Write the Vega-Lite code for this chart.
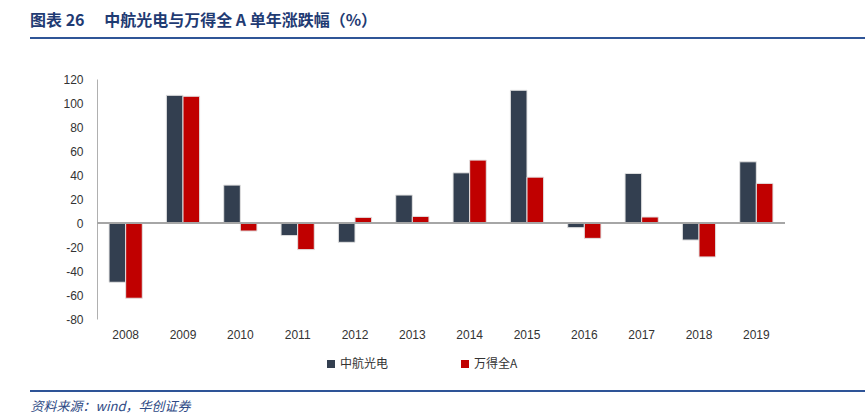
{
  "$schema": "https://vega.github.io/schema/vega-lite/v6.json",
  "width": 688,
  "height": 240,
  "autosize": {"type": "none"},
  "padding": {"left": 97, "top": 79, "right": 80, "bottom": 101},
  "background": "white",
  "config": {"view": {"stroke": null}, "font": "Liberation Sans", "axisY": {"labelOverlap": false}},
  "title": {
    "text": "图表 26\u3000 中航光电与万得全\u00a0A\u00a0单年涨跌幅（%）",
    "anchor": "start",
    "frame": "group",
    "dx": -67,
    "offset": 8,
    "font": "Noto Sans CJK SC",
    "fontSize": 16,
    "fontWeight": "bold",
    "color": "#1F3B73"
  },
  "data": {
    "values": [
      {"year": "2008", "series": "中航光电", "value": -49.4},
      {"year": "2008", "series": "万得全A", "value": -62.7},
      {"year": "2009", "series": "中航光电", "value": 106.4},
      {"year": "2009", "series": "万得全A", "value": 105.6},
      {"year": "2010", "series": "中航光电", "value": 31.6},
      {"year": "2010", "series": "万得全A", "value": -6.7},
      {"year": "2011", "series": "中航光电", "value": -10.5},
      {"year": "2011", "series": "万得全A", "value": -22.2},
      {"year": "2012", "series": "中航光电", "value": -16.1},
      {"year": "2012", "series": "万得全A", "value": 4.7},
      {"year": "2013", "series": "中航光电", "value": 23.3},
      {"year": "2013", "series": "万得全A", "value": 5.5},
      {"year": "2014", "series": "中航光电", "value": 41.8},
      {"year": "2014", "series": "万得全A", "value": 52.4},
      {"year": "2015", "series": "中航光电", "value": 110.6},
      {"year": "2015", "series": "万得全A", "value": 38.2},
      {"year": "2016", "series": "中航光电", "value": -3.9},
      {"year": "2016", "series": "万得全A", "value": -12.8},
      {"year": "2017", "series": "中航光电", "value": 41.3},
      {"year": "2017", "series": "万得全A", "value": 5.0},
      {"year": "2018", "series": "中航光电", "value": -14.2},
      {"year": "2018", "series": "万得全A", "value": -28.3},
      {"year": "2019", "series": "中航光电", "value": 51.0},
      {"year": "2019", "series": "万得全A", "value": 33.0}
    ]
  },
  "layer": [
    {
      "mark": {"type": "bar", "stroke": "#E3E3E3", "strokeWidth": 1},
      "encoding": {
        "x": {
          "field": "year",
          "type": "nominal",
          "scale": {"paddingInner": 0.42, "paddingOuter": 0.21},
          "axis": {
            "labelAngle": 0,
            "domain": false,
            "ticks": false,
            "labelPadding": 10,
            "labelFontSize": 12,
            "labelColor": "#333333",
            "title": "资料来源：wind，华创证券",
            "titleFont": "Noto Sans CJK SC",
            "titleFontStyle": "italic",
            "titleFontWeight": "normal",
            "titleFontSize": 13,
            "titleColor": "#2E4A85",
            "titleAnchor": "start",
            "titleAlign": "left",
            "titleBaseline": "alphabetic",
            "titleX": -67,
            "titleY": 91
          }
        },
        "xOffset": {
          "field": "series",
          "type": "nominal",
          "sort": ["中航光电", "万得全A"],
          "scale": {"paddingInner": 0, "paddingOuter": 0}
        },
        "y": {
          "field": "value",
          "type": "quantitative",
          "scale": {"domain": [-80, 120], "nice": false},
          "axis": {
            "values": [-80, -60, -40, -20, 0, 20, 40, 60, 80, 100, 120],
            "labelExpr": "replace(datum.label, '\u2212', '-')",
            "labelOverlap": false,
            "grid": false,
            "ticks": false,
            "domainColor": "#B0B0B0",
            "domainWidth": 1,
            "labelPadding": 14,
            "labelFontSize": 12,
            "labelColor": "#333333",
            "title": null
          }
        },
        "color": {
          "field": "series",
          "type": "nominal",
          "scale": {"domain": ["中航光电", "万得全A"], "range": ["#333F50", "#C00000"]},
          "legend": {
            "title": null,
            "orient": "none",
            "direction": "horizontal",
            "legendX": 228,
            "legendY": 279,
            "symbolType": "square",
            "symbolSize": 64,
            "symbolStrokeWidth": 0,
            "labelFont": "Noto Sans CJK SC",
            "labelFontSize": 12,
            "labelColor": "#333333",
            "labelOffset": 3,
            "columnPadding": 70
          }
        }
      }
    },
    {
      "mark": {"type": "rule", "color": "#A6A6A6", "strokeWidth": 1.5},
      "encoding": {
        "y": {
          "datum": 0,
          "type": "quantitative",
          "axis": {
            "values": [-80, -60, -40, -20, 0, 20, 40, 60, 80, 100, 120],
            "labelExpr": "replace(datum.label, '\u2212', '-')",
            "labelOverlap": false,
            "grid": false,
            "ticks": false,
            "domainColor": "#B0B0B0",
            "domainWidth": 1,
            "labelPadding": 14,
            "labelFontSize": 12,
            "labelColor": "#333333",
            "title": null
          }
        }
      }
    },
    {
      "mark": {"type": "rule", "color": "#2F5597", "strokeWidth": 2},
      "encoding": {"x": {"value": -67}, "x2": {"value": 768}, "y": {"value": -41}}
    },
    {
      "mark": {"type": "rule", "color": "#2F5597", "strokeWidth": 1.5},
      "encoding": {"x": {"value": -67}, "x2": {"value": 768}, "y": {"value": 312}}
    }
  ]
}
